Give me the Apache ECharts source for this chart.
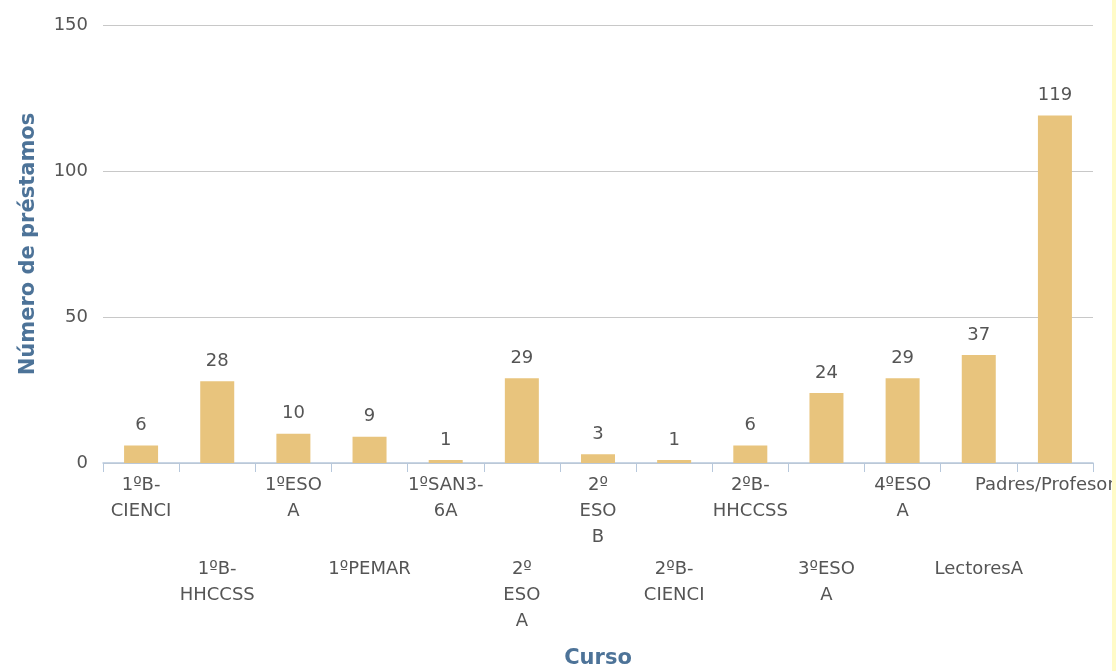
<!DOCTYPE html>
<html>
<head>
<meta charset="utf-8">
<title>Préstamos por curso</title>
<script src="https://cdn.jsdelivr.net/npm/echarts@6/dist/echarts.min.js"></script>
<style>
  html, body { margin: 0; padding: 0; background: #fff; }
  #wrap { width: 1112px; height: 671px; border-right: 4px solid #fffbc8; }
  #chart { width: 1112px; height: 671px; }
</style>
</head>
<body>
<div id="wrap"><div id="chart"></div></div>
<script>
// datos
var cursos = ['1ºB-CIENCI', '1ºB-HHCCSS', '1ºESO A', '1ºPEMAR', '1ºSAN3-6A', '2º ESO A', '2º ESO B',
              '2ºB-CIENCI', '2ºB-HHCCSS', '3ºESO A', '4ºESO A', 'LectoresA', 'Padres/Profesores'];
var prestamos = [6, 28, 10, 9, 1, 29, 3, 1, 6, 24, 29, 37, 119];
var ticksY = [0, 50, 100, 150];

var myChart = echarts.init(document.getElementById('chart'));

var option = {
  animation: false,
  grid: { left: 103, right: 19, top: 25, bottom: 208, containLabel: false, outerBoundsMode: 'none' },
  xAxis: {
    type: 'category',
    data: cursos,
    name: 'Curso',
    nameLocation: 'middle',
    nameGap: 185,
    nameTextStyle: { fontFamily: 'DejaVu Sans', fontWeight: 'bold', fontSize: 21, color: '#4d7398' },
    axisLine: { lineStyle: { color: '#b7c8dc', width: 1.5 } },
    axisTick: { show: true, length: 9, lineStyle: { color: '#b7c8dc' } },
    axisLabel: {
      interval: 0,
      margin: 9,
      fontFamily: 'DejaVu Sans',
      fontSize: 18,
      lineHeight: 26,
      color: '#555',
      formatter: function (v, i) {
        // partir en espacios y guiones, y alternar filas
        var t = v.replace(/ /g, '\n').replace(/-/g, '-\n');
        return i % 2 === 1 ? '{gap| }\n' + t : t;
      },
      rich: { gap: { lineHeight: 84, fontSize: 10 } }
    }
  },
  yAxis: {
    type: 'value',
    min: ticksY[0],
    max: ticksY[ticksY.length - 1],
    interval: 50,
    name: 'Número de préstamos',
    nameLocation: 'middle',
    nameGap: 64,
    nameTextStyle: { fontFamily: 'DejaVu Sans', fontWeight: 'bold', fontSize: 21, color: '#4d7398' },
    axisLine: { show: false },
    axisTick: { show: false },
    axisLabel: { margin: 15, fontFamily: 'DejaVu Sans', fontSize: 18, color: '#555' },
    splitLine: { lineStyle: { color: '#c8c8c8', width: 1 } }
  },
  series: [{
    name: 'Préstamos',
    type: 'bar',
    data: prestamos,
    barWidth: 34,
    itemStyle: { color: '#e8c47d' },
    label: {
      show: true,
      position: 'top',
      distance: 11,
      fontFamily: 'DejaVu Sans',
      fontSize: 18,
      color: '#555'
    }
  }]
};

myChart.setOption(option);
window.addEventListener('resize', myChart.resize);
</script>
</body>
</html>
